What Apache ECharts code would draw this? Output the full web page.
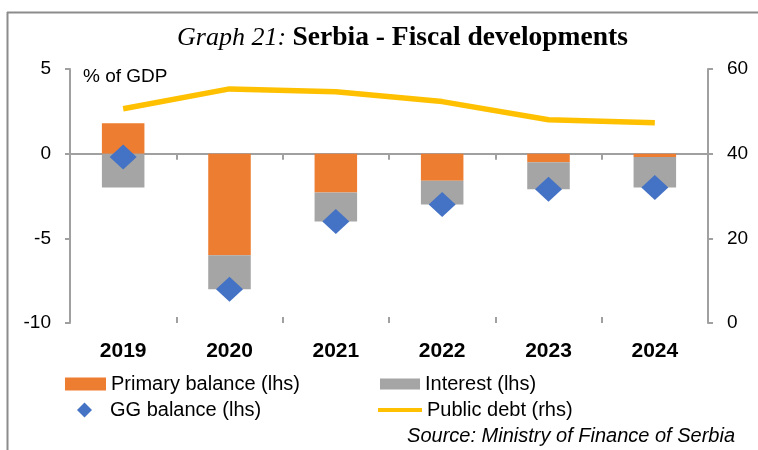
<!DOCTYPE html>
<html>
<head>
<meta charset="utf-8">
<script src="https://cdn.jsdelivr.net/npm/echarts@6/dist/echarts.min.js"></script>
<style>html,body{margin:0;padding:0;background:#fff}#c{width:758px;height:450px}</style>
</head>
<body>
<div id="c"></div>
<script>
var years = ['2019', '2020', '2021', '2022', '2023', '2024'];
var primaryBalance = [1.8, -6.0, -2.3, -1.6, -0.5, -0.2];
var interest = [-2.0, -2.0, -1.7, -1.4, -1.6, -1.8];
var ggBalance = [-0.2, -8.0, -4.0, -3.0, -2.1, -2.0];
var publicDebt = [50.6, 55.3, 54.6, 52.3, 48.0, 47.3];
var lhsTicks = [-10, 5, 5];   // min, max, interval
var rhsTicks = [0, 60, 20];

var SANS = 'Liberation Sans, Arial, sans-serif';
var SERIF = 'Liberation Serif, Times New Roman, serif';
var axisGray = '#a0a0a0';
var chart = echarts.init(document.getElementById('c'), null, {renderer: 'canvas'});
var legendText = {fontFamily: SANS, fontSize: 20, color: '#000'};

chart.setOption({
  animation: false,
  backgroundColor: '#fff',
  title: {
    text: '{i|Graph 21:} {b|Serbia - Fiscal developments}',
    left: 177, top: 24, padding: 0,
    textStyle: {
      fontFamily: SERIF, fontWeight: 'normal', fontSize: 26, color: '#000',
      rich: {
        i: {fontFamily: SERIF, fontStyle: 'italic', fontWeight: 'normal', fontSize: 26, color: '#000'},
        b: {fontFamily: SERIF, fontStyle: 'normal', fontWeight: 'bold', fontSize: 27.5, color: '#000'}
      }
    }
  },
  grid: {left: 70, right: 50, top: 69, bottom: 127, containLabel: false},
  legend: [
    {data: ['Primary balance (lhs)'], left: 65, top: 374, padding: 0, itemWidth: 41, itemHeight: 13, icon: 'rect', textStyle: legendText},
    {data: ['Interest (lhs)'], left: 380, top: 374, padding: 0, itemWidth: 40, itemHeight: 11, icon: 'rect', textStyle: legendText},
    {data: ['GG balance (lhs)'], left: 77, top: 400, padding: 0, itemWidth: 15, itemHeight: 15, icon: 'diamond',
     textStyle: {fontFamily: SANS, fontSize: 20, color: '#000', padding: [0, 0, 0, 13]}},
    {data: ['Public debt (rhs)'], left: 378, top: 400, padding: 0, itemWidth: 44, itemHeight: 4, icon: 'rect', textStyle: legendText}
  ],
  xAxis: [
    {type: 'category', data: years, position: 'bottom', axisLine: {show: false, onZero: false}, axisTick: {show: false},
     axisLabel: {fontFamily: SANS, fontSize: 21, fontWeight: 'bold', color: '#000', margin: 18}},
    {type: 'category', data: years, position: 'bottom', axisLine: {show: true, onZero: true, lineStyle: {color: axisGray, width: 2}},
     axisTick: {show: true, length: 6, lineStyle: {color: axisGray, width: 2}}, axisLabel: {show: false}},
    {type: 'category', data: years, position: 'top', axisLine: {show: false, onZero: true},
     axisTick: {show: true, length: 6, lineStyle: {color: axisGray, width: 2}}, axisLabel: {show: false}}
  ],
  yAxis: [
    {type: 'value', min: lhsTicks[0], max: lhsTicks[1], interval: lhsTicks[2], splitLine: {show: false},
     axisLine: {show: true, lineStyle: {color: axisGray, width: 2}},
     axisTick: {show: true, length: 5, lineStyle: {color: axisGray, width: 2}},
     axisLabel: {fontFamily: SANS, fontSize: 19, color: '#000', margin: 19}},
    {type: 'value', min: rhsTicks[0], max: rhsTicks[1], interval: rhsTicks[2], splitLine: {show: false}, position: 'right',
     axisLine: {show: true, lineStyle: {color: axisGray, width: 2}},
     axisTick: {show: true, length: 5, lineStyle: {color: axisGray, width: 2}},
     axisLabel: {fontFamily: SANS, fontSize: 19, color: '#000', margin: 19}}
  ],
  series: [
    {name: 'Primary balance (lhs)', type: 'bar', stack: 'fb', data: primaryBalance, barWidth: '40%',
     itemStyle: {color: '#ed7d31'}, z: 2},
    {name: 'Interest (lhs)', type: 'bar', stack: 'fb', data: interest, barWidth: '40%',
     itemStyle: {color: '#a5a5a5'}, z: 2},
    {name: 'GG balance (lhs)', type: 'scatter', data: ggBalance, symbol: 'diamond', symbolSize: [27, 25],
     itemStyle: {color: '#4472c4', opacity: 1}, z: 4},
    {name: 'Public debt (rhs)', type: 'line', yAxisIndex: 1, data: publicDebt, symbol: 'none', showSymbol: false,
     lineStyle: {color: '#ffc000', width: 5.5}, itemStyle: {color: '#ffc000'}, z: 5}
  ],
  graphic: [
    {type: 'line', shape: {x1: 7, y1: 12.5, x2: 758, y2: 12.5}, style: {stroke: '#8c8c8c', lineWidth: 2}, silent: true},
    {type: 'line', shape: {x1: 7.5, y1: 12, x2: 7.5, y2: 450}, style: {stroke: '#8c8c8c', lineWidth: 2}, silent: true},
    {type: 'text', left: 83, top: 67, style: {text: '% of GDP', fontFamily: SANS, fontSize: 19, fill: '#000'}},
    {type: 'text', right: 23, top: 426, style: {text: 'Source: Ministry of Finance of Serbia', fontFamily: SANS, fontStyle: 'italic', fontSize: 20, fill: '#000'}}
  ]
});
</script>
</body>
</html>
